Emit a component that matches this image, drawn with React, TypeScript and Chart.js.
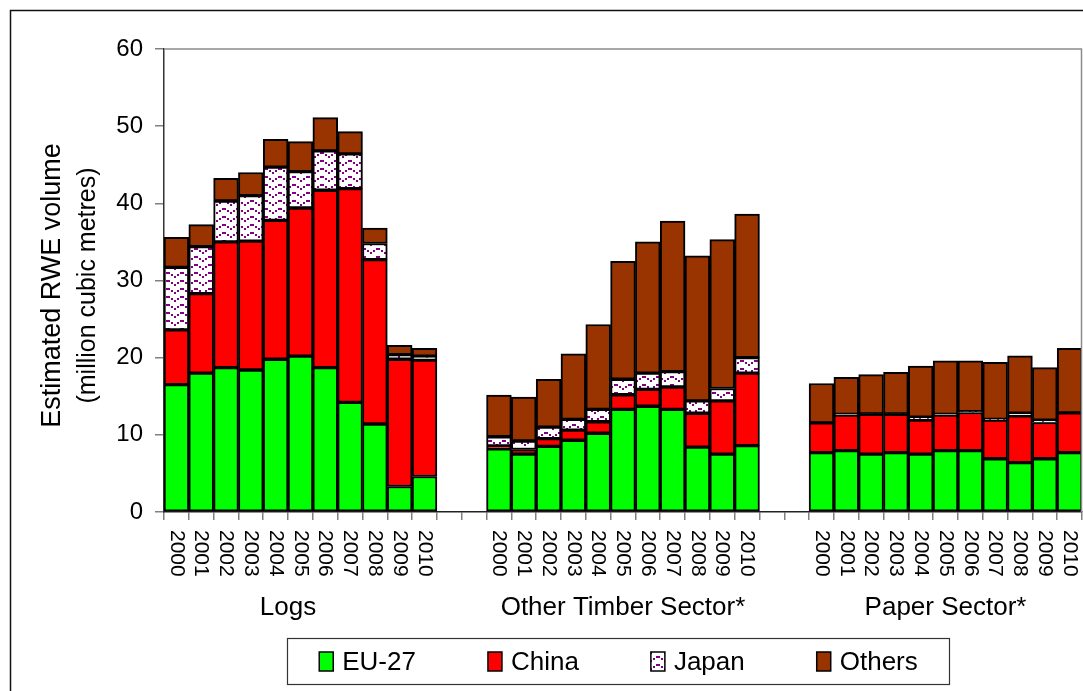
import React, { useEffect, useRef } from 'react';
import { Chart, registerables } from 'chart.js';

Chart.register(...registerables);

const years = ['2000', '2001', '2002', '2003', '2004', '2005', '2006', '2007', '2008', '2009', '2010'];
const groupNames = ['Logs', 'Other Timber Sector*', 'Paper Sector*'];
const groupLabelCentre = [4.5, 5, 5];
const yTicks = [0, 10, 20, 30, 40, 50, 60];
const yTitle = ['Estimated RWE volume', '(million cubic metres)'];
const seriesNames = ['EU-27', 'China', 'Japan', 'Others'];

const logsEU = [16.5, 18.0, 18.7, 18.4, 19.8, 20.2, 18.7, 14.2, 11.4, 3.3, 4.6];
const logsChina = [7.1, 10.3, 16.3, 16.7, 18.0, 19.2, 23.0, 27.7, 21.3, 16.5, 15.1];
const logsJapan = [8.1, 6.1, 5.3, 5.9, 6.9, 4.7, 5.1, 4.5, 2.1, 0.6, 0.5];
const logsOthers = [3.9, 2.85, 2.95, 3.0, 3.6, 3.9, 4.3, 2.9, 2.0, 1.2, 1.0];

const timberEU = [8.2, 7.5, 8.5, 9.3, 10.2, 13.3, 13.7, 13.3, 8.4, 7.5, 8.6];
const timberChina = [0.35, 0.6, 1.0, 1.3, 1.5, 1.9, 2.2, 2.9, 4.4, 6.9, 9.4];
const timberJapan = [1.2, 1.1, 1.5, 1.4, 1.6, 2.0, 2.1, 2.0, 1.6, 1.6, 2.0];
const timberOthers = [5.4, 5.7, 6.2, 8.5, 11.0, 15.3, 17.0, 19.5, 18.8, 19.3, 18.6];

const paperEU = [7.7, 7.95, 7.5, 7.7, 7.5, 7.95, 7.95, 6.9, 6.4, 6.9, 7.7];
const paperChina = [3.85, 4.6, 5.15, 4.95, 4.4, 4.6, 4.95, 5.0, 6.05, 4.7, 5.15];
const paperJapan = [0, 0.1, 0.05, 0.05, 0.4, 0.1, 0.1, 0.1, 0.35, 0.3, 0];
const paperOthers = [5.1, 4.8, 5.1, 5.4, 6.6, 6.95, 6.6, 7.4, 7.45, 6.8, 8.35];

const GAP = 2;
const FONT = '"Liberation Sans", Arial, sans-serif';

function joinGroups(parts: (number | string)[][], filler: any): any[] {
  const out: any[] = [];
  parts.forEach((p, i) => {
    out.push(...p);
    if (i < parts.length - 1) for (let k = 0; k < GAP; k++) out.push(filler);
  });
  return out;
}

const labels = joinGroups([years, years, years], '');
const euData = joinGroups([logsEU, timberEU, paperEU], null);
const chinaData = joinGroups([logsChina, timberChina, paperChina], null);
const japanData = joinGroups([logsJapan, timberJapan, paperJapan], null);
const othersData = joinGroups([logsOthers, timberOthers, paperOthers], null);

function makePattern(): CanvasPattern | string {
  const c = document.createElement('canvas');
  c.width = 14;
  c.height = 8;
  const g = c.getContext('2d');
  if (!g) return '#ffffff';
  g.fillStyle = '#ffffff';
  g.fillRect(0, 0, 14, 8);
  g.fillStyle = '#800080';
  g.fillRect(0, 0, 2, 2);
  g.fillRect(3, 2, 2, 2);
  g.fillRect(6, 4, 2, 2);
  g.fillRect(9, 2, 2, 2);
  g.fillRect(12, 0, 2, 2);
  const p = g.createPattern(c, 'repeat');
  return p || '#ffffff';
}

export default function App() {
  const ref = useRef<HTMLCanvasElement | null>(null);

  useEffect(() => {
    if (!ref.current) return;
    const japanFill = makePattern();
    const fills = ['#00ff00', '#ff0000', japanFill, '#993300'];
    const data = [euData, chinaData, japanData, othersData];

    const decor = {
      id: 'decor',
      afterDraw(chart: any) {
        const ctx = chart.ctx;
        const area = chart.chartArea;
        const xs = chart.scales.x;
        ctx.save();
        // plot area top and right border
        ctx.strokeStyle = '#8c8c8c';
        ctx.lineWidth = 1.5;
        ctx.beginPath();
        ctx.moveTo(area.left, area.top);
        ctx.lineTo(area.right - 0.5, area.top);
        ctx.lineTo(area.right - 0.5, area.bottom);
        ctx.stroke();
        // outer frame
        ctx.strokeStyle = '#111';
        ctx.lineWidth = 1.5;
        ctx.beginPath();
        ctx.moveTo(10.5, chart.height);
        ctx.lineTo(10.5, 10.5);
        ctx.lineTo(chart.width, 10.5);
        ctx.stroke();

        // year labels rotated clockwise
        ctx.fillStyle = '#000';
        ctx.font = `21px ${FONT}`;
        ctx.textAlign = 'left';
        ctx.textBaseline = 'middle';
        labels.forEach((lab: string, i: number) => {
          if (!lab) return;
          const x = xs.getPixelForValue(i);
          ctx.save();
          ctx.translate(x, area.bottom + 18);
          ctx.rotate(Math.PI / 2);
          ctx.fillText(lab, 0, 0);
          ctx.restore();
        });

        // group labels
        ctx.font = `26px ${FONT}`;
        ctx.textAlign = 'center';
        ctx.textBaseline = 'middle';
        groupNames.forEach((name, gi) => {
          const start = gi * (years.length + GAP);
          const x = xs.getPixelForValue(start + groupLabelCentre[gi]);
          ctx.fillText(name, x, area.bottom + 96);
        });

        // y title
        ctx.save();
        ctx.translate(0, (area.top + area.bottom) / 2 + 5);
        ctx.rotate(-Math.PI / 2);
        ctx.textAlign = 'center';
        ctx.textBaseline = 'middle';
        ctx.font = `27px ${FONT}`;
        ctx.fillText(yTitle[0], 0, 53);
        ctx.font = `25px ${FONT}`;
        ctx.fillText(yTitle[1], 0, 88);
        ctx.restore();

        // legend
        const lx0 = 287.5, lx1 = 949.5, ly0 = 638.5, ly1 = 684.5;
        ctx.strokeStyle = '#333';
        ctx.lineWidth = 1.2;
        ctx.strokeRect(lx0, ly0, lx1 - lx0, ly1 - ly0);
        ctx.font = `26px ${FONT}`;
        const boxW = 14, boxH = 19, gap = 9, spacing = 72;
        const widths = seriesNames.map((n) => ctx.measureText(n).width);
        const total = widths.reduce((a, w) => a + boxW + gap + w, 0) + spacing * (seriesNames.length - 1);
        let cx = (lx0 + lx1) / 2 - total / 2;
        const cy = (ly0 + ly1) / 2;
        ctx.textAlign = 'left';
        ctx.textBaseline = 'middle';
        seriesNames.forEach((n, i) => {
          ctx.fillStyle = fills[i];
          ctx.fillRect(cx, cy - boxH / 2, boxW, boxH);
          ctx.strokeStyle = '#000';
          ctx.lineWidth = 1.5;
          ctx.strokeRect(cx, cy - boxH / 2, boxW, boxH);
          ctx.fillStyle = '#000';
          ctx.fillText(n, cx + boxW + gap, cy + 1);
          cx += boxW + gap + widths[i] + spacing;
        });
        ctx.restore();
      },
    };

    const chart = new Chart(ref.current, {
      type: 'bar',
      data: {
        labels,
        datasets: seriesNames.map((name, i) => ({
          label: name,
          data: data[i],
          backgroundColor: fills[i] as any,
          borderColor: '#000000',
          borderWidth: 2,
          borderSkipped: false,
          barPercentage: 1,
          categoryPercentage: 1,
        })),
      },
      options: {
        responsive: false,
        maintainAspectRatio: false,
        devicePixelRatio: 1,
        animation: false,
        layout: { padding: { top: 49, right: 1, left: 0, bottom: 0 } },
        plugins: { legend: { display: false }, tooltip: { enabled: false } },
        scales: {
          x: {
            type: 'category',
            stacked: true,
            offset: true,
            afterFit: (s: any) => { s.height = 179; },
            grid: { display: true, drawOnChartArea: false, drawTicks: true, tickLength: 8, offset: true, color: '#808080', lineWidth: 1.5 },
            border: { display: true, color: '#222', width: 1.5 },
            ticks: { display: false, autoSkip: false },
          },
          y: {
            stacked: true,
            min: 0,
            max: 60,
            afterFit: (s: any) => { s.width = 164; },
            afterBuildTicks: (s: any) => { s.ticks = yTicks.map((v) => ({ value: v })); },
            grid: { display: true, drawOnChartArea: false, drawTicks: true, tickLength: 9, color: '#808080', lineWidth: 1.5 },
            border: { display: true, color: '#333', width: 1.5 },
            ticks: { color: '#000', padding: 12, font: { size: 24, family: FONT } },
          },
        },
      },
      plugins: [decor],
    });
    return () => chart.destroy();
  }, []);

  return (
    <div style={{ position: 'absolute', left: 0, top: 0, width: 1083, height: 691, background: '#fff' }}>
      <canvas ref={ref} width={1083} height={691} style={{ display: 'block' }} />
    </div>
  );
}
